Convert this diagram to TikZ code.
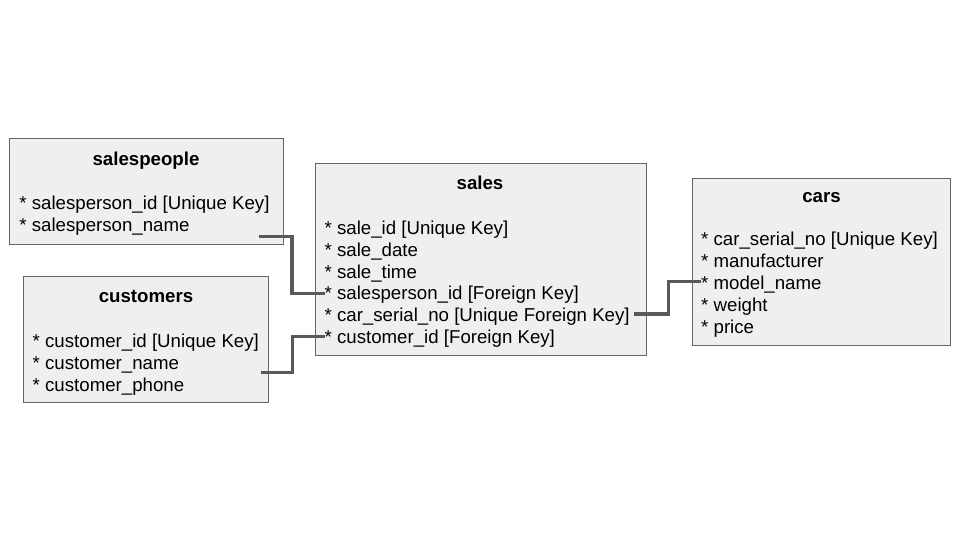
\documentclass[tikz,border=0pt]{standalone}
\usepackage{fontspec}
\setmainfont{Liberation Sans}
\definecolor{boxfill}{HTML}{EFEFEF}
\definecolor{boxline}{HTML}{666666}
\definecolor{linkcol}{HTML}{595959}
\tikzset{
  tablebox/.style={draw=boxline, line width=1pt, fill=boxfill, anchor=north west, inner sep=0pt},
  ttitle/.style={anchor=base, inner sep=0pt, font=\fontsize{18.67}{22}\selectfont\bfseries},
  tline/.style={anchor=base west, inner sep=0pt, font=\fontsize{18.67}{22}\selectfont},
  link/.style={draw=linkcol, line width=3.2pt}
}
\begin{document}
\begin{tikzpicture}[x=1pt,y=-1pt]
\useasboundingbox (0,0) rectangle (960,540);
\fill[white] (0,0) rectangle (960,540);
% boxes
\node[tablebox, minimum width=273.3pt, minimum height=106pt] (salespeople) at (9.3,138.3) {};
\node[tablebox, minimum width=245.6pt, minimum height=125.7pt] (customers) at (22.7,276) {};
\node[tablebox, minimum width=330.4pt, minimum height=191.7pt] (sales) at (315.3,163.3) {};
\node[tablebox, minimum width=258.3pt, minimum height=166.7pt] (cars) at (691.7,178.3) {};
% salespeople
\node[ttitle] (spt) at (146,165.9) {salespeople};
\node[tline] (sp1) at (19.2,209.7) {* salesperson\_id [Unique Key]};
\node[tline] (sp2) at (19.2,231.6) {* salesperson\_name};
% customers
\node[ttitle] (cut) at (146,302.3) {customers};
\node[tline] (cu1) at (32.5,347.2) {* customer\_id [Unique Key]};
\node[tline] (cu2) at (32.5,369.1) {* customer\_name};
\node[tline] (cu3) at (32.5,391) {* customer\_phone};
% sales
\node[ttitle] (sat) at (480,189.5) {sales};
\node[tline] (sa1) at (324.4,234.2) {* sale\_id [Unique Key]};
\node[tline] (sa2) at (324.4,256.1) {* sale\_date};
\node[tline] (sa3) at (324.4,278) {* sale\_time};
\node[tline] (sa4) at (324.4,299.9) {* salesperson\_id [Foreign Key]};
\node[tline] (sa5) at (324.4,321.8) {* car\_serial\_no [Unique Foreign Key]};
\node[tline] (sa6) at (324.4,343.7) {* customer\_id [Foreign Key]};
% cars
\node[ttitle] (cat) at (821.5,202.6) {cars};
\node[tline] (ca1) at (701,245.5) {* car\_serial\_no [Unique Key]};
\node[tline] (ca2) at (701,267.4) {* manufacturer};
\node[tline] (ca3) at (701,289.3) {* model\_name};
\node[tline] (ca4) at (701,311.2) {* weight};
\node[tline] (ca5) at (701,333.1) {* price};
% connector ends
\coordinate (spA) at (258.7,236.7);
\coordinate (spB) at (324.5,293.3);
\coordinate (cuA) at (261,372.3);
\coordinate (cuB) at (324.5,336.7);
\coordinate (caA) at (634,314);
\coordinate (caB) at (701,281.7);
% connectors
\draw[link] (spA) -- (292,236.7) |- (spB);
\draw[link] (cuA) -- (292.5,372.3) |- (cuB);
\draw[link] (caA) -- (668.3,314) |- (caB);
\end{tikzpicture}
\end{document}
